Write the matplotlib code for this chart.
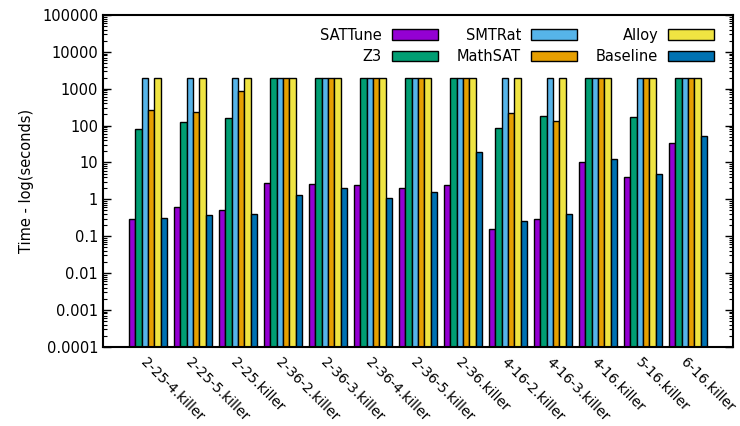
import numpy as np
import matplotlib
matplotlib.use("Agg")
import matplotlib.pyplot as plt
from matplotlib.ticker import LogLocator, NullFormatter

# benchmark instances
instances = ["2-25-4.killer", "2-25-5.killer", "2-25.killer", "2-36-2.killer",
             "2-36-3.killer", "2-36-4.killer", "2-36-5.killer", "2-36.killer",
             "4-16-2.killer", "4-16-3.killer", "4-16.killer", "5-16.killer",
             "6-16.killer"]

# solve times in seconds (2000 = timeout)
sattune = [0.29, 0.62, 0.5, 2.8, 2.6, 2.4, 2.0, 2.5, 0.155, 0.29, 10.5, 4.1, 34]
z3 = [81, 128, 158, 2000, 2000, 2000, 2000, 2000, 85, 187, 2000, 176, 2000]
smtrat = [2000] * 13
mathsat = [257, 231, 870, 2000, 2000, 2000, 2000, 2000, 225, 135, 2000, 2000, 2000]
alloy = [2000] * 13
baseline = [0.32, 0.37, 0.40, 1.29, 2.0, 1.11, 1.56, 19, 0.25, 0.39, 12.6, 4.8, 52]

series = [("SATTune", sattune, "#9400D3"),
          ("Z3", z3, "#009E73"),
          ("SMTRat", smtrat, "#56B4E9"),
          ("MathSAT", mathsat, "#E69F00"),
          ("Alloy", alloy, "#F0E442"),
          ("Baseline", baseline, "#0072B2")]

plt.rcParams['font.family'] = ['DejaVu Sans']
plt.rcParams['font.size'] = 10.5

fig = plt.figure(figsize=(7.4, 4.26), dpi=100)
ax = fig.add_axes([0.1392, 0.186, 0.8513, 0.7788])

x = np.arange(len(instances))
w = 1.0 / 7
for k, (name, vals, col) in enumerate(series):
    ax.bar(x + (k - 2.5) * w, vals, w, bottom=1e-4, color=col,
           edgecolor="black", linewidth=1.0, label=name)

ax.set_yscale("log")
ax.set_ylim(1e-4, 1e5)
ax.set_xlim(-1, 13)
ax.yaxis.set_minor_locator(LogLocator(base=10, subs=np.arange(2, 10), numticks=20))
ax.yaxis.set_minor_formatter(NullFormatter())
ylabels = ["0.0001", "0.001", "0.01", "0.1", "1", "10", "100", "1000", "10000", "100000"]
ax.set_yticks([10.0 ** e for e in range(-4, 6)])
ax.set_yticklabels(ylabels)
ax.tick_params(axis="y", which="both", direction="in", right=True, color="black")
ax.tick_params(axis="y", which="major", length=6, width=1)
ax.tick_params(axis="y", which="minor", length=3, width=0.8)

ax.set_xticks(x)
ax.set_xticklabels(instances, rotation=-45, ha="left", va="top",
                   rotation_mode="anchor", fontsize=10)
ax.tick_params(axis="x", length=0, pad=6)

for sp in ax.spines.values():
    sp.set_linewidth(1.5)

ax.set_ylabel("Time - log(seconds)", labelpad=6)

ax.legend(loc="upper right", bbox_to_anchor=(0.9798, 0.9796), borderaxespad=0,
          ncol=3, frameon=False, markerfirst=False,
          handlelength=3.15, handleheight=0.7, handletextpad=0.7,
          columnspacing=1.3, labelspacing=0.45, fontsize=10.5)

fig.savefig("out.png", dpi=100)
